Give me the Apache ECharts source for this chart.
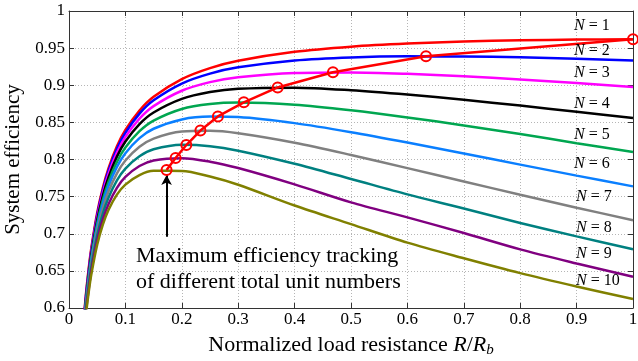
<!DOCTYPE html>
<html><head><meta charset="utf-8">
<script src="https://cdn.jsdelivr.net/npm/echarts@6/dist/echarts.min.js"></script>
<style>html,body{margin:0;padding:0;background:#fff}#c{width:638px;height:361px}</style>
</head><body><div id="c"></div>
<script>
// Normalized load resistance R/Rb (sample positions)
const xs = [0.025, 0.03, 0.035, 0.04, 0.05, 0.06, 0.07, 0.085, 0.1, 0.125, 0.15, 0.2, 0.25, 0.3, 0.4, 0.5, 0.6, 0.7, 0.8, 0.9, 1.0];
// System efficiency for N = 1 .. 10
const effN1  = [0.575, 0.6185, 0.6537, 0.6828, 0.7283, 0.762, 0.7881, 0.8177, 0.8397, 0.866, 0.8845, 0.9083, 0.9231, 0.933, 0.9451, 0.952, 0.9562, 0.9589, 0.9605, 0.9615, 0.962];
const effN2  = [0.5722, 0.6155, 0.6507, 0.6799, 0.7252, 0.7589, 0.7849, 0.8143, 0.836, 0.8618, 0.8797, 0.9023, 0.9157, 0.9241, 0.9334, 0.9375, 0.9389, 0.9387, 0.9376, 0.9357, 0.9335];
const effN3  = [0.5704, 0.6135, 0.6483, 0.6771, 0.722, 0.7551, 0.7806, 0.8093, 0.8304, 0.8551, 0.8719, 0.8926, 0.9042, 0.9108, 0.9166, 0.9173, 0.9154, 0.9121, 0.9078, 0.9029, 0.8977];
const effN4  = [0.5688, 0.6114, 0.646, 0.6744, 0.7186, 0.7512, 0.776, 0.8039, 0.8242, 0.8477, 0.8633, 0.8816, 0.8908, 0.8953, 0.8968, 0.8933, 0.8875, 0.8804, 0.8726, 0.8643, 0.8559];
const effN5  = [0.5663, 0.6085, 0.6426, 0.6706, 0.714, 0.7458, 0.7699, 0.7968, 0.8161, 0.8381, 0.8524, 0.8681, 0.8748, 0.8768, 0.8739, 0.8663, 0.8567, 0.8459, 0.8343, 0.822, 0.81];
const effN6  = [0.5643, 0.606, 0.6397, 0.6673, 0.7099, 0.741, 0.7644, 0.7901, 0.8085, 0.8288, 0.8414, 0.854, 0.8578, 0.8571, 0.849, 0.8368, 0.8228, 0.808, 0.7931, 0.7783, 0.7638];
const effN7  = [0.5613, 0.6024, 0.6355, 0.6626, 0.7042, 0.7343, 0.7568, 0.7814, 0.7986, 0.8172, 0.8282, 0.8377, 0.8387, 0.8354, 0.8226, 0.8061, 0.7884, 0.7704, 0.7526, 0.7351, 0.7182];
const effN8  = [0.5579, 0.5984, 0.6308, 0.6574, 0.6978, 0.727, 0.7486, 0.7719, 0.7878, 0.8044, 0.8137, 0.8199, 0.818, 0.8119, 0.7943, 0.7738, 0.753, 0.734, 0.7145, 0.6965, 0.679];
const effN9  = [0.5543, 0.5941, 0.6259, 0.6518, 0.6911, 0.7192, 0.7398, 0.7618, 0.7765, 0.7912, 0.7987, 0.8018, 0.7971, 0.7885, 0.7665, 0.7423, 0.722, 0.701, 0.679, 0.66, 0.642];
const effN10 = [0.5513, 0.5905, 0.6217, 0.647, 0.6853, 0.7124, 0.7321, 0.7527, 0.7662, 0.779, 0.7847, 0.7846, 0.7771, 0.766, 0.738, 0.713, 0.688, 0.667, 0.647, 0.629, 0.612];
// Maximum efficiency tracking points (N = 10 .. 1)
const trackX = [0.173, 0.189, 0.208, 0.233, 0.264, 0.31, 0.37, 0.468, 0.633, 1.0];
const trackY = [0.786, 0.802, 0.8195, 0.839, 0.858, 0.877, 0.897, 0.9174, 0.939, 0.962];
// Unit numbers
const unitNumbers = [1, 2, 3, 4, 5, 6, 7, 8, 9, 10];
// Tick labels
const xTicks = [0, 0.1, 0.2, 0.3, 0.4, 0.5, 0.6, 0.7, 0.8, 0.9, 1];
const yTicks = [0.6, 0.65, 0.7, 0.75, 0.8, 0.85, 0.9, 0.95, 1];
// Annotation arrow (data coordinates)
const arrowFrom = [0.173, 0.696];
const arrowTo = [0.173, 0.779];

const curves = [effN1, effN2, effN3, effN4, effN5, effN6, effN7, effN8, effN9, effN10];
const colors = ['#ff0000', '#0000ff', '#ff00ff', '#000000', '#00a650', '#0a7fff', '#808080', '#008080', '#800080', '#808000'];
const FF = '"Liberation Serif", "Times New Roman", serif';
const labelX = [574, 574, 574, 574, 574, 574, 576, 576, 576, 576];
const labelY = [26, 51, 73, 104, 135, 164, 197, 228, 253.5, 280.5];

const series = curves.map((c, i) => ({
  type: 'line', name: 'N=' + unitNumbers[i],
  data: xs.map((x, j) => [x, c[j]]),
  showSymbol: false, smooth: 0.3, clip: true,
  lineStyle: { color: colors[i], width: 2.5 },
  z: 2
}));
series.push({
  type: 'line', name: 'track',
  data: trackX.map((x, j) => [x, trackY[j]]),
  symbol: 'circle', symbolSize: 10, showAllSymbol: true, clip: false,
  itemStyle: { color: 'rgba(255,0,0,0)', borderColor: '#ff0000', borderWidth: 2 },
  lineStyle: { color: '#ff0000', width: 2.5 },
  z: 5,
  markLine: {
    silent: true, symbol: ['none', 'arrow'], symbolSize: [8, 10],
    lineStyle: { color: '#000', width: 2, type: 'solid' },
    label: { show: false },
    data: [[{ coord: arrowFrom }, { coord: arrowTo }]]
  }
});

const axisCommonX = {
  type: 'value', min: xTicks[0], max: xTicks[xTicks.length - 1], interval: 0.1,
  axisLine: { show: true, onZero: false, lineStyle: { color: '#333', width: 1 } },
  axisTick: { show: true, inside: true, length: 5, lineStyle: { color: '#333' } }
};
const axisCommonY = {
  type: 'value', min: yTicks[0], max: yTicks[yTicks.length - 1], interval: 0.05,
  axisLine: { show: true, onZero: false, lineStyle: { color: '#333', width: 1 } },
  axisTick: { show: true, inside: true, length: 5, lineStyle: { color: '#333' } }
};

const graphics = unitNumbers.map((n, i) => ({
  type: 'text', x: labelX[i], y: labelY[i], z: 10,
  style: {
    text: '{i|N} = ' + n, fill: '#000', font: '16px ' + FF, verticalAlign: 'middle',
    rich: { i: { fontStyle: 'italic', fontSize: 16, fontFamily: FF, fill: '#000' } }
  }
}));
graphics.push({
  type: 'text', x: 136, y: 256, z: 10,
  style: { text: 'Maximum efficiency tracking', fill: '#000', font: '22px ' + FF, verticalAlign: 'middle' }
});
graphics.push({
  type: 'text', x: 136, y: 282, z: 10,
  style: { text: 'of different total unit numbers', fill: '#000', font: '22px ' + FF, verticalAlign: 'middle' }
});

const chart = echarts.init(document.getElementById('c'), null, { renderer: 'canvas' });
chart.setOption({
  animation: false,
  backgroundColor: '#fff',
  grid: { left: 69, right: 5, top: 11, bottom: 53, containLabel: false, outerBoundsMode: 'none' },
  xAxis: [
    Object.assign({}, axisCommonX, {
      position: 'bottom',
      name: 'Normalized load resistance {i|R}/{i|R}{s|b}',
      nameLocation: 'middle', nameGap: 25,
      nameTextStyle: {
        fontSize: 22, fontFamily: FF, color: '#000',
        rich: {
          i: { fontSize: 22, fontFamily: FF, fontStyle: 'italic', color: '#000' },
          s: { fontSize: 15, fontFamily: FF, fontStyle: 'italic', color: '#000', verticalAlign: 'bottom', padding: [10, 0, 0, 0] }
        }
      },
      axisLabel: { show: true, margin: 3, fontSize: 17, fontFamily: FF, color: '#000' },
      splitLine: { show: true, lineStyle: { color: '#b5b5b5', width: 1, type: [1, 2] } }
    }),
    Object.assign({}, axisCommonX, {
      position: 'top', axisLabel: { show: false }, splitLine: { show: false }
    })
  ],
  yAxis: [
    Object.assign({}, axisCommonY, {
      position: 'left',
      name: 'System efficiency', nameLocation: 'middle', nameGap: 39,
      nameTextStyle: { fontSize: 21, fontFamily: FF, color: '#000' },
      axisLabel: { show: true, margin: 4, fontSize: 17, fontFamily: FF, color: '#000' },
      splitLine: { show: true, lineStyle: { color: '#b5b5b5', width: 1, type: [1, 2] } }
    }),
    Object.assign({}, axisCommonY, {
      position: 'right', axisLabel: { show: false }, splitLine: { show: false }
    })
  ],
  series: series,
  graphic: graphics
});
</script>
</body></html>
